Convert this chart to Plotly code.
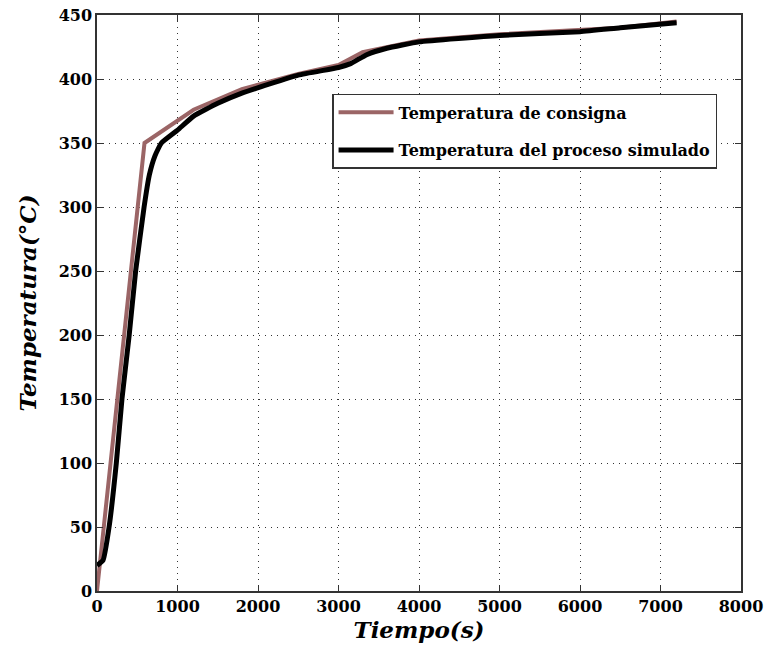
import plotly.graph_objects as go

# Setpoint temperature (Temperatura de consigna)
t_set = [0, 590, 1200, 1800, 2500, 3000, 3300, 3600, 4000, 5000, 6000, 6500, 7200]
T_set = [0, 350, 376, 392, 404, 411, 421, 425, 430, 435, 438, 440, 445]

# Simulated process temperature (Temperatura del proceso simulado)
t_sim = [0, 75, 150, 240, 310, 400, 480, 585, 650, 720, 800, 1000, 1200, 1500, 1800,
         2500, 3000, 3150, 3350, 3600, 4000, 5000, 6000, 6500, 7200]
T_sim = [20, 24, 50, 100, 150, 200, 250, 300, 325, 340, 350, 360, 371, 381, 389,
         403, 409, 412, 419, 424, 429, 434, 437, 440, 444]

x_ticks = list(range(0, 8001, 1000))
y_ticks = list(range(0, 451, 50))

fig = go.Figure()
fig.add_trace(go.Scatter(x=t_set, y=T_set, mode="lines", name="Temperatura de consigna",
                         line=dict(color="#9b6566", width=4), legendgroup="a"))
fig.add_trace(go.Scatter(x=t_sim, y=T_sim, mode="lines", name="Temperatura del proceso simulado",
                         line=dict(color="#000000", width=5, shape="spline", smoothing=0.4),
                         legendgroup="b"))

axis_common = dict(
    showgrid=True, gridcolor="#333", griddash="1px,5px", gridwidth=1,
    showline=True, linecolor="#333", linewidth=1.5, mirror="ticks",
    ticks="inside", ticklen=6, tickcolor="#333",
    tickfont=dict(family="DejaVu Serif", size=16, color="#000", weight="bold"),
    zeroline=False, automargin=False, ticklabeloverflow="allow",
)

fig.update_xaxes(range=[0, 8000], tickvals=x_ticks, **axis_common,
                 title=dict(text="<b><i>Tiempo(s)</i></b>", standoff=2,
                            font=dict(family="DejaVu Serif", size=23, color="#000")))
fig.update_yaxes(range=[0, 450], tickvals=y_ticks, **axis_common,
                 title=dict(text="<b><i>Temperatura(°C)</i></b>", standoff=16,
                            font=dict(family="DejaVu Serif", size=23, color="#000")))

fig.update_layout(
    width=767, height=651,
    margin=dict(l=97, r=26, t=15, b=60),
    paper_bgcolor="white", plot_bgcolor="white",
    showlegend=True,
    legend=dict(x=0.365, y=0.863, xanchor="left", yanchor="top",
                bgcolor="white", bordercolor="#333", borderwidth=1.5,
                font=dict(family="DejaVu Serif", size=16, color="#000", weight="bold"),
                tracegroupgap=14, traceorder="grouped", itemwidth=55),
)

# remove the browser's default page margin so the figure fills the window exactly
fig.write_html("out.html", config={"displayModeBar": False},
               post_script="document.body.style.margin='0';")
